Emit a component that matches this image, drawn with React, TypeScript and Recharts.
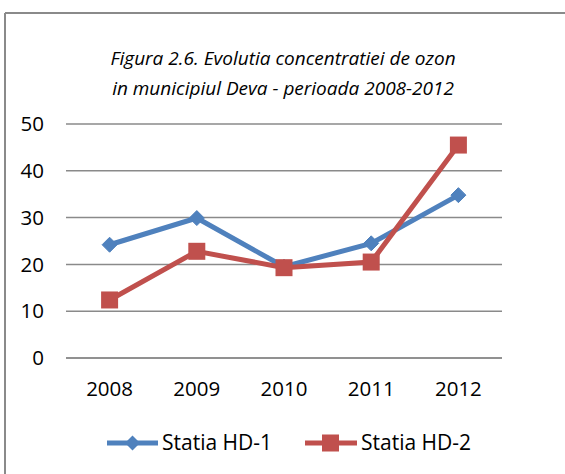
import React from "react";
import { LineChart, Line, XAxis, YAxis, CartesianGrid } from "recharts";

const years = ["2008", "2009", "2010", "2011", "2012"];
const hd1 = [24.2, 29.9, 19.5, 24.5, 34.8];
const hd2 = [12.4, 22.8, 19.3, 20.5, 45.5];
const yTicks = [0, 10, 20, 30, 40, 50];
const titleLines = [
  "Figura 2.6. Evolutia concentratiei de ozon",
  "in municipiul Deva - perioada 2008-2012",
];
const seriesNames = ["Statia HD-1", "Statia HD-2"];

const BLUE = "#4F81BD";
const RED = "#C0504D";
const GRID = "#8a8a8a";
const FONT = "'Open Sans', sans-serif";

const data = years.map((year, i) => ({ year, hd1: hd1[i], hd2: hd2[i] }));

function Diamond(props: any) {
  const { cx, cy } = props;
  if (cx == null || cy == null) return null;
  const r = 7.5;
  return (
    <path
      d={`M${cx},${cy - r}L${cx + r},${cy}L${cx},${cy + r}L${cx - r},${cy}Z`}
      fill={BLUE}
      stroke={BLUE}
      strokeWidth={1}
    />
  );
}

function Square(props: any) {
  const { cx, cy } = props;
  if (cx == null || cy == null) return null;
  const s = 8.5;
  return <rect x={cx - s} y={cy - s} width={s * 2} height={s * 2} fill={RED} />;
}

export default function App() {
  return (
    <div style={{ position: "absolute", left: 0, top: 0, width: 565, height: 474, background: "#fff" }}>
      <LineChart
        width={565}
        height={474}
        data={data}
        margin={{ top: 124, right: 63, bottom: 86, left: 0 }}
      >
        <CartesianGrid vertical={false} stroke={GRID} strokeWidth={1.5} />
        <XAxis
          dataKey="year"
          height={30}
          padding={{ left: 43.6, right: 43.6 }}
          axisLine={{ stroke: GRID, strokeWidth: 1.5 }}
          tickLine={false}
          tickSize={0}
          tickMargin={23}
          tick={{ fill: "#000", fontSize: 20.5, fontFamily: FONT }}
        />
        <YAxis
          domain={[0, 50]}
          ticks={yTicks}
          width={66}
          axisLine={false}
          tickLine={false}
          tickSize={0}
          tickMargin={22}
          tick={{ fill: "#000", fontSize: 20.5, fontFamily: FONT }}
        />
        <Line
          dataKey="hd1"
          name={seriesNames[0]}
          stroke={BLUE}
          strokeWidth={5}
          dot={<Diamond />}
          activeDot={false}
          isAnimationActive={false}
        />
        <Line
          dataKey="hd2"
          name={seriesNames[1]}
          stroke={RED}
          strokeWidth={5}
          dot={<Square />}
          activeDot={false}
          isAnimationActive={false}
        />
      </LineChart>
      <svg
        width={565}
        height={474}
        style={{ position: "absolute", left: 0, top: 0, pointerEvents: "none" }}
      >
        <line x1={5} y1={13} x2={565} y2={13} stroke={GRID} strokeWidth={2} />
        <line x1={5} y1={13} x2={5} y2={474} stroke={GRID} strokeWidth={2} />
        {titleLines.map((t, i) => (
          <text
            key={i}
            x={283}
            y={65 + i * 30}
            textAnchor="middle"
            fontFamily={FONT}
            fontStyle="italic"
            fontSize={19}
            fill="#000"
          >
            {t}
          </text>
        ))}
        <g fontFamily={FONT} fontSize={21} fill="#000">
          <line x1={107} y1={443} x2={158} y2={443} stroke={BLUE} strokeWidth={5} />
          <path d="M132.5,435.5L140,443L132.5,450.5L125,443Z" fill={BLUE} />
          <text x={162} y={450}>{seriesNames[0]}</text>
          <line x1={305} y1={443} x2={357} y2={443} stroke={RED} strokeWidth={5} />
          <rect x={322} y={434.5} width={17} height={17} fill={RED} />
          <text x={361} y={450}>{seriesNames[1]}</text>
        </g>
      </svg>
    </div>
  );
}
